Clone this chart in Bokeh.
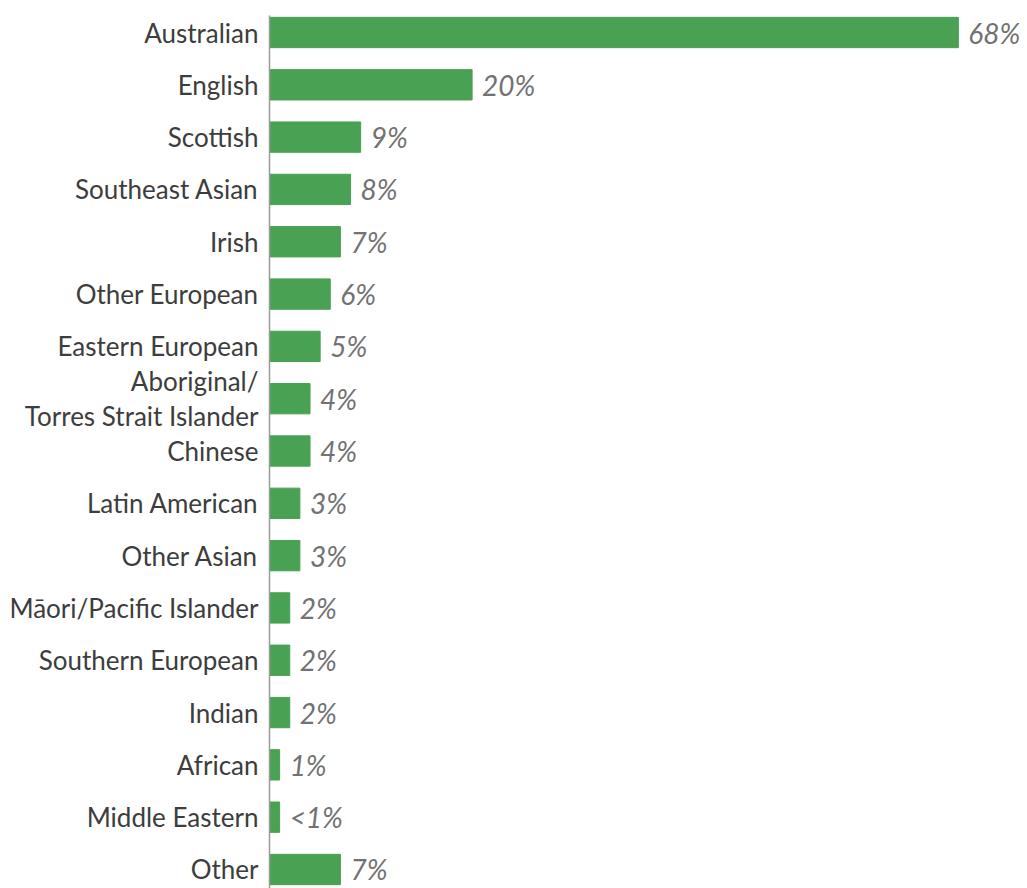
from bokeh.plotting import figure
from bokeh.models import ColumnDataSource, Range1d, FixedTicker
from bokeh.core.properties import value
from bokeh.embed import file_html
from bokeh.resources import INLINE

categories = ["Australian", "English", "Scottish", "Southeast Asian", "Irish",
              "Other European", "Eastern European", "Aboriginal/\nTorres Strait Islander",
              "Chinese", "Latin American", "Other Asian", "Māori/Pacific Islander",
              "Southern European", "Indian", "African", "Middle Eastern", "Other"]
values = [68, 20, 9, 8, 7, 6, 5, 4, 4, 3, 3, 2, 2, 2, 1, 1, 7]
value_labels = ["68%", "20%", "9%", "8%", "7%", "6%", "5%", "4%", "4%", "3%", "3%",
                "2%", "2%", "2%", "1%", "<1%", "7%"]

idx = list(range(len(categories)))
src = ColumnDataSource(dict(y=idx, v=values, lab=value_labels, cat=categories))

W, H = 1027, 888
left = 269
top = 15
ppu_y = 52.31
ppu_x = 10.13

p = figure(width=W, height=H, output_backend="svg", toolbar_location=None,
           x_range=Range1d(0, (W - left) / ppu_x),
           y_range=Range1d(16 + (H - 869) / ppu_y, 0 - (32 - top) / ppu_y),
           min_border_left=left, min_border_top=top, min_border_right=0, min_border_bottom=0)
p.outline_line_color = None
p.xgrid.visible = False
p.ygrid.visible = False
p.xaxis.visible = False
p.background_fill_color = "white"
p.border_fill_color = "white"

p.hbar(y="y", right="v", left=0, height=0.58, source=src, color="#49a153")

p.text(x="v", y="y", text="lab", source=src, x_offset=10, text_baseline="middle",
       text_align="left", text_font=value("Lato"), text_font_style="italic",
       text_font_size="28px", text_color="#727272")

ya = p.yaxis[0]
ya.ticker = FixedTicker(ticks=idx)
ya.major_label_overrides = {i: c for i, c in zip(idx, categories)}
ya.major_tick_line_color = None
ya.minor_tick_line_color = None
ya.axis_line_color = "#9a9a9a"
ya.axis_line_width = 1.5
ya.major_label_text_font = "Lato"
ya.major_label_text_font_size = "26px"
ya.major_label_text_color = "#3d3d3d"
ya.major_label_text_line_height = 1.1
ya.major_label_standoff = 5

open("out.html", "w").write(file_html(p, INLINE))
